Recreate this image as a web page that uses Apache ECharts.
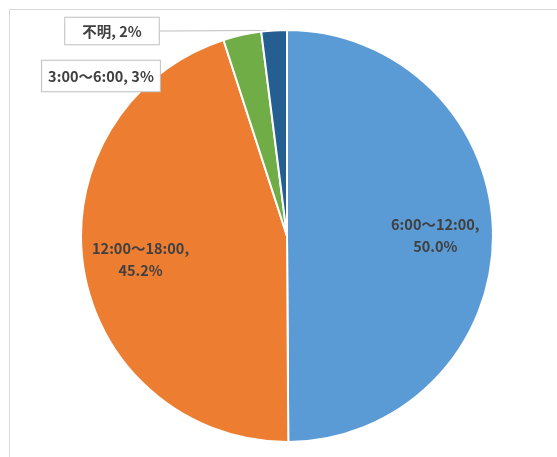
<!DOCTYPE html>
<html>
<head>
<meta charset="utf-8">
<script src="https://cdn.jsdelivr.net/npm/echarts@6/dist/echarts.min.js"></script>
<style>
  html, body { margin: 0; padding: 0; background: #fff; }
  #chart { width: 557px; height: 457px; }
</style>
</head>
<body>
<div id="chart"></div>
<script>
// Time slots and their shares (%)
const categories = ['6:00～12:00', '12:00～18:00', '3:00～6:00', '不明'];
const shares = [50.0, 45.2, 3, 2];
const shareText = ['50.0%', '45.2%', '3%', '2%'];
const colors = ['#5B9BD5', '#ED7D31', '#70AD47', '#255E91'];

const CX = 287, CY = 236, R = 206;
// Spots for the two callout boxes (left of the pie top)
const calloutPos = { 2: [101, 76], 3: [112, 31] };
const calloutPad = { 2: [8, 6, 8, 6], 3: [6, 17, 6, 17] };

const total = shares.reduce((a, b) => a + b, 0);
function midAngle(i) {
  let before = 0;
  for (let k = 0; k < i; k++) before += shares[k];
  return (before + shares[i] / 2) / total * Math.PI * 2;
}

const FONT = '"Noto Sans CJK JP", "Noto Sans", sans-serif';
const insideLabel = {
  position: 'inside',
  color: '#404040',
  fontWeight: 'bold',
  fontSize: 14.5,
  lineHeight: 22,
  fontFamily: FONT,
  formatter: p => categories[p.dataIndex] + ',\n' + shareText[p.dataIndex]
};
function calloutLabel(i) {
  return {
    position: 'outside',
    color: '#404040',
    fontWeight: 'bold',
    fontSize: 14.5,
    fontFamily: FONT,
    backgroundColor: '#fff',
    borderColor: '#bfbfbf',
    borderWidth: 1,
    padding: calloutPad[i],
    formatter: p => categories[p.dataIndex] + ', ' + shareText[p.dataIndex]
  };
}

const data = categories.map((name, i) => ({
  name: name,
  value: shares[i],
  itemStyle: { color: colors[i] },
  label: i < 2 ? insideLabel : calloutLabel(i),
  labelLine: { show: i >= 2, lineStyle: { color: '#bfbfbf', width: 1 } }
}));

const chart = echarts.init(document.getElementById('chart'), null, { renderer: 'canvas' });
chart.setOption({
  animation: false,
  backgroundColor: '#fff',
  graphic: [{
    type: 'rect',
    shape: { x: 9.5, y: 9.5, width: 700, height: 700 },
    style: { fill: 'none', stroke: '#d9d9d9', lineWidth: 1 },
    silent: true
  }],
  series: [{
    type: 'pie',
    center: [CX, CY],
    radius: R,
    startAngle: 90,
    clockwise: true,
    data: data,
    itemStyle: { borderColor: '#fff', borderWidth: 2 },
    labelLine: { length: 10, length2: 10 },
    labelLayout: function (p) {
      const i = p.dataIndex;
      if (calloutPos[i]) {
        return { x: calloutPos[i][0], y: calloutPos[i][1], align: 'center', verticalAlign: 'middle' };
      }
      const a = midAngle(i);
      const rr = R * 0.72;
      return {
        x: CX + rr * Math.sin(a),
        y: CY - rr * Math.cos(a),
        align: 'center',
        verticalAlign: 'middle'
      };
    }
  }]
});
</script>
</body>
</html>
